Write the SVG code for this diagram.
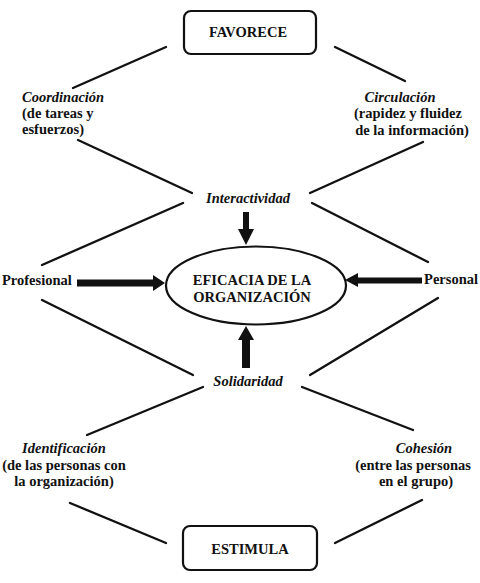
<svg xmlns="http://www.w3.org/2000/svg" width="480" height="583" viewBox="0 0 480 583">
<style>
  .t { font-family: "Liberation Serif", "Times New Roman", serif; font-weight: bold; font-size: 14.5px; fill: #111; }
  .i { font-style: italic; }
  .m { text-anchor: middle; }
  .box { fill: #fff; stroke: #111; stroke-width: 2.2; }
  .ln { stroke: #111; stroke-width: 2.3; stroke-linecap: round; fill: none; }
  .blk { fill: #111; stroke: none; }
</style>
<rect width="480" height="583" fill="#fff"/>
<g id="connectors">
  <line class="ln" x1="166" y1="47" x2="73" y2="88"/>
  <line class="ln" x1="335" y1="47" x2="405" y2="81"/>
  <line class="ln" x1="78" y1="140" x2="192" y2="193"/>
  <line class="ln" x1="423" y1="142" x2="310" y2="193"/>
  <line class="ln" x1="183" y1="203" x2="42" y2="265"/>
  <line class="ln" x1="312" y1="203" x2="428" y2="262"/>
  <line class="ln" x1="42" y1="300" x2="193" y2="375"/>
  <line class="ln" x1="438" y1="298" x2="310" y2="375"/>
  <line class="ln" x1="203" y1="387" x2="87" y2="435"/>
  <line class="ln" x1="302" y1="387" x2="413" y2="430"/>
  <line class="ln" x1="70" y1="503" x2="166" y2="543"/>
  <line class="ln" x1="422" y1="500" x2="335" y2="543"/>
  <polygon class="blk" points="243,212 249,212 249,229 254,229 246,245 238,229 243,229"/>
  <polygon class="blk" points="242,368 250,368 250,340 254,340 246,326 238,340 242,340"/>
  <polygon class="blk" points="77,279.5 153,279.5 153,275 165,283 153,291 153,286.5 77,286.5"/>
  <polygon class="blk" points="422,277.5 358,277.5 358,273 345,280 358,287 358,283.5 422,283.5"/>
</g>
<g id="favorece">
  <rect class="box" x="184" y="11" width="132" height="43" rx="7"/>
  <text class="t m" x="248" y="37">FAVORECE</text>
</g>
<g id="coordinacion">
  <text class="t i" x="22" y="102">Coordinación</text>
  <text class="t" x="22" y="118">(de tareas y</text>
  <text class="t" x="22" y="134">esfuerzos)</text>
</g>
<g id="circulacion">
  <text class="t i m" x="400" y="102">Circulación</text>
  <text class="t m" x="408" y="118">(rapidez y fluidez</text>
  <text class="t m" x="412" y="135">de la información)</text>
</g>
<g id="interactividad">
  <text class="t i m" x="248" y="203">Interactividad</text>
</g>
<g id="profesional">
  <text class="t" x="2" y="285">Profesional</text>
</g>
<g id="eficacia">
  <ellipse cx="256" cy="285.5" rx="90" ry="39" fill="#fff" stroke="#111" stroke-width="2.2"/>
  <text class="t m" x="252" y="285">EFICACIA DE LA</text>
  <text class="t m" x="252" y="302">ORGANIZACIÓN</text>
</g>
<g id="personal">
  <text class="t" x="478" y="284" text-anchor="end">Personal</text>
</g>
<g id="solidaridad">
  <text class="t i m" x="248" y="386">Solidaridad</text>
</g>
<g id="identificacion">
  <text class="t i m" x="64" y="453">Identificación</text>
  <text class="t m" x="64" y="470">(de las personas con</text>
  <text class="t m" x="64" y="486">la organización)</text>
</g>
<g id="cohesion">
  <text class="t i m" x="424" y="453">Cohesión</text>
  <text class="t m" x="413" y="470">(entre las personas</text>
  <text class="t m" x="416" y="486">en el grupo)</text>
</g>
<g id="estimula">
  <rect class="box" x="183" y="526" width="134" height="44" rx="7"/>
  <text class="t m" x="250" y="554">ESTIMULA</text>
</g>
</svg>
